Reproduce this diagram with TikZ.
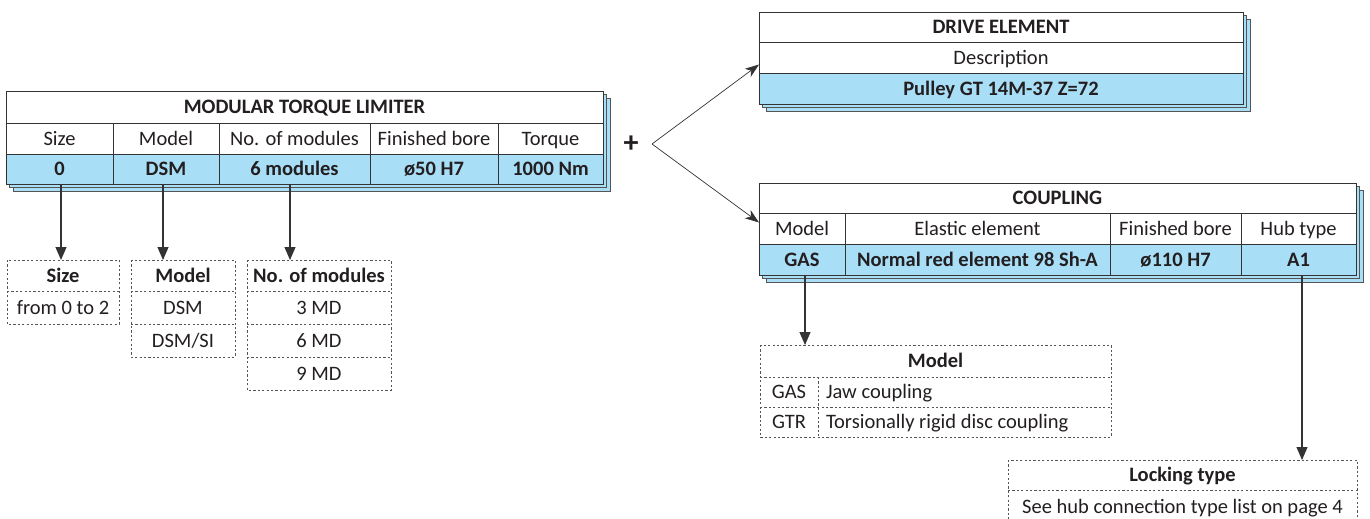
\documentclass[tikz,border=0pt]{standalone}
\usepackage{fontspec}
\setmainfont{Carlito}
\usetikzlibrary{arrows.meta}
\definecolor{cellblue}{HTML}{A9DEF7}
\definecolor{linegray}{HTML}{333333}
\definecolor{shadegray}{HTML}{555555}
\definecolor{txt}{HTML}{231F20}
\definecolor{dashgray}{HTML}{555555}
\newcommand\tcell[7]{\node[#6, minimum width={(#4-#2)*1pt}, minimum height={(#5-#3)*1pt}] (#1) at (#2,#3) {#7};}
\begin{document}
\begin{tikzpicture}[x=1pt,y=-1pt,
  base/.style={inner sep=0pt, outer sep=0pt, anchor=north west, text=txt, text height=13.6pt, text depth=0pt, font=\fontsize{20.5}{24}\selectfont},
  cell/.style={base, draw=linegray, line width=0.9pt, fill=white},
  vcell/.style={cell, fill=cellblue, font=\fontsize{20.5}{24}\selectfont\bfseries},
  hcell/.style={cell, font=\fontsize{20.5}{24}\selectfont\bfseries},
  dcell/.style={base},
  dhcell/.style={base, font=\fontsize{20.5}{24}\selectfont\bfseries},
  dline/.style={draw=dashgray, line width=0.8pt, dash pattern=on 2.2pt off 2.2pt},
  shadowbox/.style={draw=shadegray, line width=0.9pt, fill=cellblue},
  arr/.style={draw=linegray, line width=1.1pt, -{Triangle[length=13pt,width=11pt]}},
  thinarr/.style={draw=linegray, line width=0.7pt, -{Stealth[length=14pt,width=10pt,inset=4pt]}}]
\useasboundingbox (0,0) rectangle (1370,519);

% ---------- MODULAR TORQUE LIMITER ----------
\draw[shadowbox] (13,98) rectangle (610,191);
\draw[shadowbox] (9.5,94.5) rectangle (606.5,187.5);
\tcell{mtitle}{6}{91}{603}{123}{hcell}{MODULAR TORQUE LIMITER}
\tcell{hsize}{6}{123}{113}{154}{cell}{Size}
\tcell{hmodel}{113}{123}{219}{154}{cell}{Model}
\tcell{hmods}{219}{123}{370}{154}{cell}{No. of modules}
\tcell{hbore}{370}{123}{498}{154}{cell}{Finished bore}
\tcell{htorque}{498}{123}{603}{154}{cell}{Torque}
\tcell{vsize}{6}{154}{113}{184}{vcell}{0}
\tcell{vmodel}{113}{154}{219}{184}{vcell}{DSM}
\tcell{vmods}{219}{154}{370}{184}{vcell}{6 modules}
\tcell{vbore}{370}{154}{498}{184}{vcell}{ø50 H7}
\tcell{vtorque}{498}{154}{603}{184}{vcell}{1000 Nm}

% ---------- option boxes (left) ----------
\tcell{bsizeh}{7}{260}{119}{291}{dhcell}{Size}
\tcell{bsize1}{7}{291}{119}{324}{dcell}{from 0 to 2}
\draw[dline] (bsizeh.north west) rectangle (bsize1.south east);
\draw[dline] (bsizeh.south west) -- (bsizeh.south east);

\tcell{bmodh}{131}{260}{235}{291}{dhcell}{Model}
\tcell{bmod1}{131}{291}{235}{324}{dcell}{DSM}
\tcell{bmod2}{131}{324}{235}{357}{dcell}{DSM/SI}
\draw[dline] (bmodh.north west) rectangle (bmod2.south east);
\draw[dline] (bmodh.south west) -- (bmodh.south east);
\draw[dline] (bmod1.south west) -- (bmod1.south east);

\tcell{bnmh}{247}{260}{391}{291}{dhcell}{No. of modules}
\tcell{bnm1}{247}{291}{391}{324}{dcell}{3 MD}
\tcell{bnm2}{247}{324}{391}{357}{dcell}{6 MD}
\tcell{bnm3}{247}{357}{391}{390}{dcell}{9 MD}
\draw[dline] (bnmh.north west) rectangle (bnm3.south east);
\draw[dline] (bnmh.south west) -- (bnmh.south east);
\draw[dline] (bnm1.south west) -- (bnm1.south east);
\draw[dline] (bnm2.south west) -- (bnm2.south east);

\draw[arr] ([xshift=1.5pt]vsize.south) -- ([xshift=1.5pt]vsize.south |- bsizeh.north);
\draw[arr] ([xshift=-3pt]vmodel.south) -- ([xshift=-3pt]vmodel.south |- bmodh.north);
\draw[arr] ([xshift=-4.5pt]vmods.south) -- ([xshift=-4.5pt]vmods.south |- bnmh.north);

% ---------- plus and fork ----------
\node[text=txt, inner sep=0pt, font=\fontsize{30}{30}\selectfont\bfseries] (plus) at (631,144) {+};
\coordinate (fork) at (652,144);

% ---------- DRIVE ELEMENT ----------
\draw[shadowbox] (766,19) rectangle (1250,111);
\draw[shadowbox] (762.5,15.5) rectangle (1246.5,107.5);
\tcell{dtitle}{759}{12}{1243}{42}{hcell}{DRIVE ELEMENT}
\tcell{ddesc}{759}{42}{1243}{73}{cell}{Description}
\tcell{dval}{759}{73}{1243}{104}{vcell}{Pulley GT 14M-37 Z=72}

% ---------- COUPLING ----------
\draw[shadowbox] (766,190) rectangle (1363,282);
\draw[shadowbox] (762.5,186.5) rectangle (1359.5,278.5);
\tcell{ctitle}{759}{183}{1356}{213}{hcell}{COUPLING}
\tcell{chmodel}{759}{213}{845}{244}{cell}{Model}
\tcell{chelast}{845}{213}{1110}{244}{cell}{Elastic element}
\tcell{chbore}{1110}{213}{1241}{244}{cell}{Finished bore}
\tcell{chhub}{1241}{213}{1356}{244}{cell}{Hub type}
\tcell{cvmodel}{759}{244}{845}{275}{vcell}{GAS}
\tcell{cvelast}{845}{244}{1110}{275}{vcell}{Normal red element 98 Sh-A}
\tcell{cvbore}{1110}{244}{1241}{275}{vcell}{ø110 H7}
\tcell{cvhub}{1241}{244}{1356}{275}{vcell}{A1}

\draw[thinarr] (fork) -- ([yshift=-7pt]ddesc.west);
\draw[thinarr] (fork) -- ([yshift=6pt]chmodel.west);

% ---------- coupling model box ----------
\tcell{kmh}{760}{345}{1111}{377}{dhcell}{Model}
\tcell{kgas}{760}{377}{818}{407}{dcell}{GAS}
\tcell{kjaw}{818}{377}{1111}{407}{dcell}{}
\tcell{kgtr}{760}{407}{818}{437}{dcell}{GTR}
\tcell{ktor}{818}{407}{1111}{437}{dcell}{}
\node[base, anchor=west] (kjawt) at ([xshift=8pt]kjaw.west) {Jaw coupling};
\node[base, anchor=west] (ktort) at ([xshift=8pt]ktor.west) {Torsionally rigid disc coupling};
\draw[dline] (kmh.north west) rectangle (ktor.south east);
\draw[dline] (kmh.south west) -- (kmh.south east);
\draw[dline] (kgas.south west) -- (kjaw.south east);
\draw[dline] (kgas.north east) -- (kgtr.south east);

% ---------- locking type box ----------
\tcell{lth}{1008}{460}{1357}{490}{dhcell}{Locking type}
\tcell{lt1}{1008}{490}{1357}{523}{dcell}{See hub connection type list on page 4}
\draw[dline] (lth.north west) rectangle (lt1.south east);
\draw[dline] (lth.south west) -- (lth.south east);

\draw[arr] ([xshift=3pt]cvmodel.south) -- ([xshift=3pt]cvmodel.south |- kmh.north);
\draw[arr] ([xshift=3.5pt]cvhub.south) -- ([xshift=3.5pt]cvhub.south |- lth.north);
\end{tikzpicture}
\end{document}
